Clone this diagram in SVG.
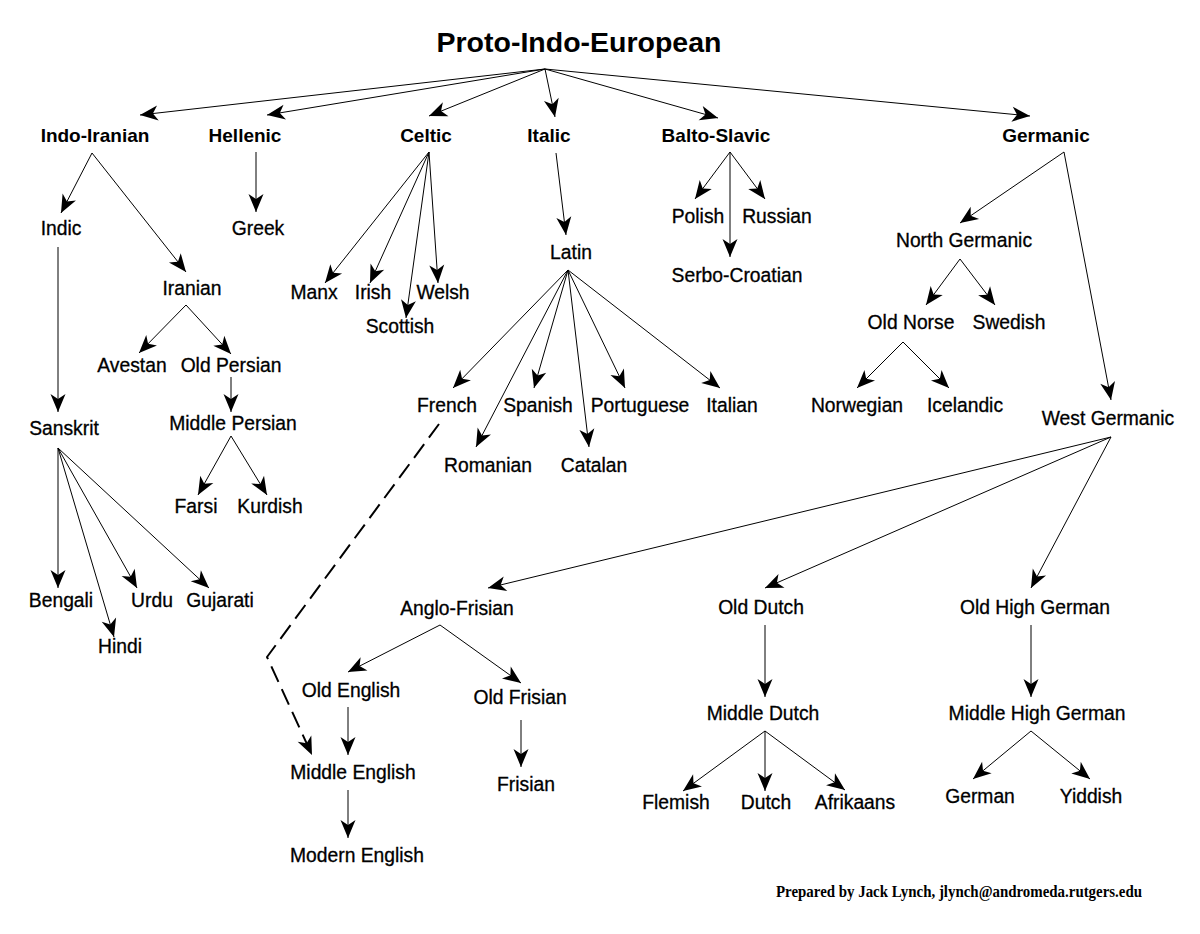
<svg xmlns="http://www.w3.org/2000/svg" width="1200" height="934" viewBox="0 0 1200 934">
<style>
text{font-family:"Liberation Sans",Arial,sans-serif;fill:#000;text-anchor:middle}
.t{font-size:28.5px;font-weight:bold}
.b{font-size:19px;font-weight:bold}
.r{font-size:19.3px;stroke:#000;stroke-width:0.3px}
.f{font-family:"Liberation Serif","Times New Roman",serif;font-size:16px;font-weight:bold;text-anchor:start}
.c line,.c polyline{stroke:#000;stroke-width:1;fill:none;marker-end:url(#ah)}
.c .d{stroke-width:2;stroke-dasharray:17 8}
</style>
<defs>
<marker id="ah" viewBox="-19 -9 20 18" refX="0" refY="0" markerWidth="20" markerHeight="18" markerUnits="userSpaceOnUse" orient="auto">
<path d="M0,0 L-18,-7.5 L-13,0 L-18,7.5 Z" fill="#000"/>
</marker>
</defs>
<rect width="1200" height="934" fill="#fff"/>
<g class="c" id="connectors">
<line x1="545" y1="69" x2="140" y2="115"/>
<line x1="545" y1="69" x2="267" y2="115"/>
<line x1="545" y1="69" x2="429" y2="116"/>
<line x1="545" y1="69" x2="555" y2="117"/>
<line x1="545" y1="69" x2="718" y2="118"/>
<line x1="545" y1="69" x2="1030" y2="116"/>
<line x1="92" y1="153" x2="61" y2="213"/>
<line x1="92" y1="153" x2="186" y2="272"/>
<line x1="256" y1="152" x2="256" y2="212"/>
<line x1="429" y1="152" x2="325" y2="283"/>
<line x1="429" y1="152" x2="370" y2="283"/>
<line x1="429" y1="152" x2="406" y2="318"/>
<line x1="429" y1="152" x2="438" y2="283"/>
<line x1="556" y1="153" x2="566" y2="235"/>
<line x1="730" y1="152" x2="695" y2="199"/>
<line x1="730" y1="152" x2="765" y2="199"/>
<line x1="730" y1="152" x2="730" y2="257"/>
<line x1="1064" y1="152" x2="960" y2="223"/>
<line x1="1064" y1="152" x2="1111" y2="400"/>
<line x1="58" y1="247" x2="58" y2="412"/>
<line x1="186" y1="305" x2="139" y2="353"/>
<line x1="186" y1="305" x2="231" y2="354"/>
<line x1="231" y1="377" x2="231" y2="412"/>
<line x1="231" y1="436" x2="198" y2="495"/>
<line x1="231" y1="436" x2="267" y2="495"/>
<line x1="58" y1="448" x2="58" y2="588"/>
<line x1="58" y1="448" x2="114" y2="637"/>
<line x1="58" y1="448" x2="137" y2="588"/>
<line x1="58" y1="448" x2="209" y2="588"/>
<line x1="568" y1="270" x2="453" y2="388"/>
<line x1="568" y1="270" x2="476" y2="447"/>
<line x1="568" y1="270" x2="534" y2="388"/>
<line x1="568" y1="270" x2="589" y2="447"/>
<line x1="568" y1="270" x2="625" y2="388"/>
<line x1="568" y1="270" x2="720" y2="388"/>
<line x1="960" y1="259" x2="926" y2="305"/>
<line x1="960" y1="259" x2="995" y2="305"/>
<line x1="903" y1="342" x2="857" y2="388"/>
<line x1="903" y1="342" x2="949" y2="388"/>
<line x1="1111" y1="437" x2="488" y2="588"/>
<line x1="1111" y1="437" x2="765" y2="588"/>
<line x1="1111" y1="437" x2="1031" y2="588"/>
<line x1="440" y1="625" x2="348" y2="672"/>
<line x1="440" y1="625" x2="521" y2="683"/>
<line x1="348" y1="707" x2="348" y2="755"/>
<line x1="348" y1="790" x2="348" y2="838"/>
<line x1="521" y1="720" x2="521" y2="767"/>
<line x1="765" y1="625" x2="765" y2="697"/>
<line x1="765" y1="731" x2="683" y2="791"/>
<line x1="765" y1="731" x2="765" y2="791"/>
<line x1="765" y1="731" x2="845" y2="790"/>
<line x1="1031" y1="625" x2="1031" y2="697"/>
<line x1="1031" y1="731" x2="973" y2="779"/>
<line x1="1031" y1="731" x2="1090" y2="779"/>
<polyline class="d" points="439,424 267,657 312,755"/>
</g>
<g id="n-pie"><text class="t" x="579" y="52">Proto-Indo-European</text></g>
<g id="n-indoiranian"><text class="b" x="95" y="142">Indo-Iranian</text></g>
<g id="n-hellenic"><text class="b" x="245" y="142">Hellenic</text></g>
<g id="n-celtic"><text class="b" x="426" y="142">Celtic</text></g>
<g id="n-italic"><text class="b" x="549" y="142">Italic</text></g>
<g id="n-baltoslavic"><text class="b" x="716" y="142">Balto-Slavic</text></g>
<g id="n-germanic"><text class="b" x="1046" y="142">Germanic</text></g>
<g id="n-indic"><text class="r" x="61" y="235">Indic</text></g>
<g id="n-greek"><text class="r" x="258" y="235">Greek</text></g>
<g id="n-latin"><text class="r" x="571" y="259">Latin</text></g>
<g id="n-iranian"><text class="r" x="192" y="295">Iranian</text></g>
<g id="n-manx"><text class="r" x="314" y="299">Manx</text></g>
<g id="n-irish"><text class="r" x="373" y="299">Irish</text></g>
<g id="n-welsh"><text class="r" x="443" y="299">Welsh</text></g>
<g id="n-scottish"><text class="r" x="400" y="333">Scottish</text></g>
<g id="n-polish"><text class="r" x="698" y="223">Polish</text></g>
<g id="n-russian"><text class="r" x="777" y="223">Russian</text></g>
<g id="n-serbocroatian"><text class="r" x="737" y="282">Serbo-Croatian</text></g>
<g id="n-northgermanic"><text class="r" x="964" y="247">North Germanic</text></g>
<g id="n-oldnorse"><text class="r" x="911" y="329">Old Norse</text></g>
<g id="n-swedish"><text class="r" x="1009" y="329">Swedish</text></g>
<g id="n-norwegian"><text class="r" x="857" y="412">Norwegian</text></g>
<g id="n-icelandic"><text class="r" x="965" y="412">Icelandic</text></g>
<g id="n-westgermanic"><text class="r" x="1108" y="425">West Germanic</text></g>
<g id="n-avestan"><text class="r" x="132" y="372">Avestan</text></g>
<g id="n-oldpersian"><text class="r" x="231" y="372">Old Persian</text></g>
<g id="n-middlepersian"><text class="r" x="233" y="430">Middle Persian</text></g>
<g id="n-farsi"><text class="r" x="196" y="513">Farsi</text></g>
<g id="n-kurdish"><text class="r" x="270" y="513">Kurdish</text></g>
<g id="n-sanskrit"><text class="r" x="64" y="435">Sanskrit</text></g>
<g id="n-bengali"><text class="r" x="61" y="607">Bengali</text></g>
<g id="n-urdu"><text class="r" x="152" y="607">Urdu</text></g>
<g id="n-gujarati"><text class="r" x="220" y="607">Gujarati</text></g>
<g id="n-hindi"><text class="r" x="120" y="653">Hindi</text></g>
<g id="n-french"><text class="r" x="447" y="412">French</text></g>
<g id="n-spanish"><text class="r" x="538" y="412">Spanish</text></g>
<g id="n-portuguese"><text class="r" x="640" y="412">Portuguese</text></g>
<g id="n-italian"><text class="r" x="732" y="412">Italian</text></g>
<g id="n-romanian"><text class="r" x="488" y="472">Romanian</text></g>
<g id="n-catalan"><text class="r" x="594" y="472">Catalan</text></g>
<g id="n-anglofrisian"><text class="r" x="457" y="615">Anglo-Frisian</text></g>
<g id="n-olddutch"><text class="r" x="761" y="614">Old Dutch</text></g>
<g id="n-oldhighgerman"><text class="r" x="1035" y="614">Old High German</text></g>
<g id="n-oldenglish"><text class="r" x="351" y="697">Old English</text></g>
<g id="n-oldfrisian"><text class="r" x="520" y="704">Old Frisian</text></g>
<g id="n-middleenglish"><text class="r" x="353" y="779">Middle English</text></g>
<g id="n-modernenglish"><text class="r" x="357" y="862">Modern English</text></g>
<g id="n-frisian"><text class="r" x="526" y="791">Frisian</text></g>
<g id="n-middledutch"><text class="r" x="763" y="720">Middle Dutch</text></g>
<g id="n-flemish"><text class="r" x="676" y="809">Flemish</text></g>
<g id="n-dutch"><text class="r" x="766" y="809">Dutch</text></g>
<g id="n-afrikaans"><text class="r" x="855" y="809">Afrikaans</text></g>
<g id="n-middlehighgerman"><text class="r" x="1037" y="720">Middle High German</text></g>
<g id="n-german"><text class="r" x="980" y="803">German</text></g>
<g id="n-yiddish"><text class="r" x="1091" y="803">Yiddish</text></g>
<g id="footer"><text class="f" x="776" y="897" textLength="366" lengthAdjust="spacingAndGlyphs">Prepared by Jack Lynch, jlynch@andromeda.rutgers.edu</text></g>
</svg>
